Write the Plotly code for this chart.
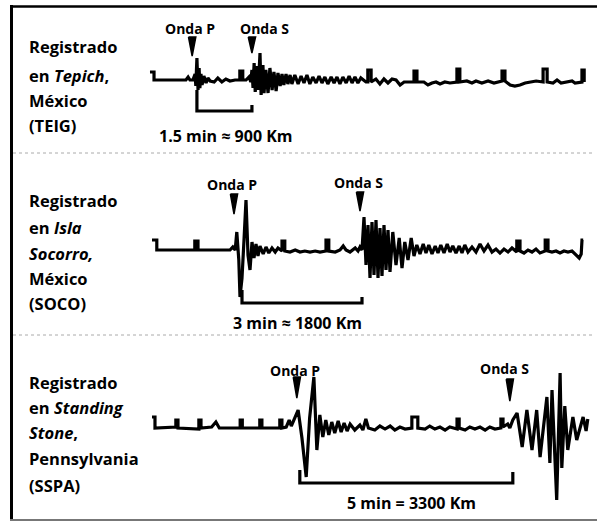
import plotly.graph_objects as go

# ---------------- data ----------------
# seismogram samples: (time in minutes from start of record, amplitude)
teig_trace = [
    (0.00, 8), (0.11, 8), (0.11, 0), (0.98, 0), (1.04, 3), (1.09, 0), (1.17, 0), (1.23, 6), (1.25, -6),
    (1.28, 22), (1.31, -10), (1.34, 12), (1.36, -8), (1.39, 6), (1.42, -5), (1.47, 4), (1.53, -3), (1.58, 2),
    (1.64, -1), (1.75, -2), (1.85, 2), (1.96, -2), (2.07, 1), (2.18, -1), (2.32, 0), (2.45, 0), (2.45, 9),
    (2.53, 9), (2.53, 0), (2.62, 0), (2.70, 3), (2.75, -2), (2.78, 10), (2.81, -8), (2.84, 17), (2.87, -12),
    (2.92, 14), (2.95, -10), (3.00, 27), (3.03, -15), (3.08, 15), (3.11, -13), (3.16, 10), (3.22, -13),
    (3.27, 12), (3.33, -10), (3.38, 8), (3.44, -11), (3.49, 7), (3.55, -6), (3.60, 6), (3.65, -5), (3.71, 6),
    (3.76, -4), (3.82, 5), (3.87, -4), (3.95, 5), (4.04, -4), (4.12, 4), (4.20, -3), (4.28, 5), (4.36, -4),
    (4.44, 3), (4.53, -3), (4.61, 4), (4.69, -3), (4.77, 3), (4.85, -4), (4.94, 3), (5.02, -3), (5.10, 3),
    (5.18, -4), (5.26, 3), (5.35, -3), (5.43, 4), (5.51, -3), (5.59, 3), (5.67, -3), (5.75, 2), (5.89, -2),
    (5.94, -2), (5.94, 10), (6.03, 10), (6.03, -2), (6.16, 1), (6.27, -4), (6.38, 1), (6.49, -3), (6.60, 1),
    (6.71, 0), (6.82, -5), (6.93, -2), (7.20, -2), (7.20, 9), (7.28, 9), (7.28, -2), (7.47, -2), (7.58, -5),
    (7.69, -3), (7.80, -2), (7.91, -4), (8.04, -2), (8.18, -3), (8.37, -2), (8.37, 11), (8.45, 11), (8.45, -2),
    (8.64, -1), (8.78, -3), (8.89, -1), (9.05, -3), (9.22, -1), (9.38, -3), (9.60, -1), (9.60, 9), (9.68, 9),
    (9.68, -1), (9.82, -5), (9.95, -6), (10.09, -5), (10.23, -3), (10.36, -2), (10.53, -1), (10.72, -2),
    (10.72, 11), (10.83, 11), (10.83, -2), (10.99, -3), (11.10, 0), (11.21, -3), (11.37, -2), (11.51, -1),
    (11.59, -3), (11.78, -2), (11.78, 10), (11.84, 10), (11.84, -2),
]

soco_trace = [
    (0.00, 10), (0.12, 10), (0.12, 0), (1.07, 0), (1.07, 9), (1.15, 9), (1.15, 0), (1.95, 0), (2.02, 3),
    (2.08, 0), (2.12, 18), (2.17, -10), (2.20, -47), (2.25, -28), (2.30, 10), (2.35, 50), (2.40, -5),
    (2.45, -20), (2.50, 8), (2.55, -8), (2.60, 6), (2.65, -6), (2.70, 4), (2.78, -4), (2.85, 3), (2.92, -3),
    (3.00, 2), (3.08, -2), (3.15, 2), (3.25, -1), (3.25, 9), (3.32, 9), (3.32, -1), (3.45, -2), (3.58, 0),
    (3.70, -2), (3.82, -1), (3.95, -2), (4.08, -1), (4.20, -2), (4.35, -1), (4.35, 10), (4.42, 10), (4.42, -1),
    (4.58, -2), (4.70, 0), (4.78, 4), (4.85, 0), (4.95, -2), (5.08, 2), (5.15, -1), (5.20, 3), (5.25, 0),
    (5.30, 33), (5.35, -15), (5.40, 25), (5.45, -28), (5.50, 28), (5.55, -25), (5.60, 30), (5.65, -28),
    (5.70, 22), (5.75, -26), (5.80, 25), (5.85, -20), (5.90, 20), (5.95, -22), (6.02, 18), (6.10, -15),
    (6.18, 12), (6.25, -18), (6.32, 8), (6.40, -10), (6.48, 12), (6.55, -6), (6.62, 5), (6.70, -4), (6.78, 6),
    (6.85, -3), (6.92, 5), (7.00, -4), (7.08, 4), (7.15, -3), (7.22, 5), (7.30, -3), (7.38, 6), (7.45, -2),
    (7.52, 4), (7.60, -3), (7.68, 4), (7.75, -3), (7.82, 5), (7.90, -2), (8.00, 3), (8.10, -2), (8.20, 6),
    (8.30, -1), (8.40, 5), (8.50, -2), (8.60, 1), (8.70, -3), (8.80, 1), (8.90, -2), (9.00, 2), (9.12, -2),
    (9.12, 9), (9.20, 9), (9.20, -1), (9.30, -3), (9.40, 0), (9.50, -2), (9.60, 1), (9.70, -3), (9.83, -1),
    (9.83, 10), (9.90, 10), (9.90, -1), (10.00, -2), (10.10, -1), (10.20, -3), (10.30, -1), (10.40, -2),
    (10.50, -1), (10.60, -5), (10.68, -8), (10.73, -4), (10.75, 10), (10.78, 10),
]

sspa_trace = [
    (0.00, 11), (0.07, 11), (0.07, 0), (0.56, 1), (0.56, 8), (0.61, 8), (0.61, 0), (1.10, -1), (1.10, 8),
    (1.15, 8), (1.15, 0), (1.40, 1), (1.50, 6), (1.58, 0), (2.07, 0), (2.07, 8), (2.12, 8), (2.12, 0),
    (2.53, 0), (2.53, 8), (2.58, 8), (2.58, 0), (3.00, 0), (3.00, 8), (3.05, 8), (3.05, 0), (3.15, 1),
    (3.22, 8), (3.27, 2), (3.36, 10), (3.43, 18), (3.52, -10), (3.62, -49), (3.70, 10), (3.80, 51),
    (3.87, -22), (3.94, 13), (4.01, -9), (4.08, 8), (4.15, -7), (4.22, 6), (4.29, -5), (4.37, 7), (4.44, -4),
    (4.51, 5), (4.58, -3), (4.65, 4), (4.76, -2), (4.88, 3), (4.95, -2), (5.02, 9), (5.08, 0), (5.23, -2),
    (5.35, 2), (5.47, -1), (5.59, 2), (5.70, -2), (5.82, 1), (5.94, -1), (6.10, 0), (6.10, 11), (6.24, 11),
    (6.24, 0), (6.41, -1), (6.52, 2), (6.64, -1), (6.76, 1), (6.88, -2), (6.99, 1), (7.16, -1), (7.16, 9),
    (7.21, 9), (7.21, 0), (7.35, -2), (7.46, 1), (7.58, -1), (7.70, 1), (7.82, -2), (7.93, 1), (8.05, -1),
    (8.19, 0), (8.19, 9), (8.24, 9), (8.24, 1), (8.35, 4), (8.40, 0), (8.47, 8), (8.57, 15), (8.69, -19),
    (8.80, 18), (8.92, -22), (9.03, 18), (9.11, -29), (9.27, 31), (9.34, -35), (9.39, 38), (9.50, -72),
    (9.58, 55), (9.62, -40), (9.69, 22), (9.76, -22), (9.88, 11), (9.97, -12), (10.12, 11), (10.19, -3),
    (10.23, 9),
]

p_times = [1.28, 2.25, 3.47]          # P arrival (bracket start), minutes
s_times = [2.78, 5.25, 8.47]          # S arrival (bracket end), minutes
p_arrow_times = [1.15, 2.05, 3.40]    # where the "Onda P" arrow points
s_arrow_times = [2.78, 5.20, 8.40]    # where the "Onda S" arrow points
interval_labels = ["1.5 min ≈ 900 Km", "3 min ≈ 1800 Km", "5 min = 3300 Km"]
station_lines = [
    ["Registrado", "en <i>Tepich</i>,", "México", "(TEIG)"],
    ["Registrado", "en <i>Isla</i>", "<i>Socorro,</i>", "México", "(SOCO)"],
    ["Registrado", "en <i>Standing</i>", "<i>Stone</i>,", "Pennsylvania", "(SSPA)"],
]
traces = [teig_trace, soco_trace, sspa_trace]

# ---------------- layout / style configuration ----------------
W, H = 597, 522
FONT = "Open Sans"
panels = [
    dict(xrange=[-4.09, 12.19], ydom=[0.7069, 1.0], yrange=[-73, 80],
         br=(-10, -31, -25), pa=(43, 24), sa=(43, 27), hw=0.1,
         plab=52, slab=52, pshift=-2, sshift=13, ilab=-56, ishift=2,
         lines_px=[47, 75, 100, 125]),
    dict(xrange=[-3.8, 11.125], ydom=[0.3582, 0.7069], yrange=[-85, 97],
         br=(-40, -53, -47), pa=(56, 36), sa=(58, 39), hw=0.09,
         plab=65, slab=67, pshift=-2, sshift=-2, ilab=-73, ishift=-5,
         lines_px=[201, 227, 253, 278, 303]),
    dict(xrange=[-3.568, 10.446], ydom=[0.0, 0.3582], yrange=[-94, 93],
         br=(-42, -55, -44), pa=(51, 30), sa=(49, 27), hw=0.085,
         plab=58, slab=60, pshift=-2, sshift=-5, ilab=-75, ishift=5,
         lines_px=[382, 407, 432, 458, 485]),
]

fig = go.Figure()
annotations = []
layout_axes = {}

for i, (cfg, tr) in enumerate(zip(panels, traces)):
    n = "" if i == 0 else str(i + 1)
    xa, ya = "x" + n, "y" + n
    t = [p[0] for p in tr]
    a = [p[1] for p in tr]
    # seismogram
    fig.add_trace(go.Scatter(x=t, y=a, mode="lines", xaxis=xa, yaxis=ya,
                             line=dict(color="black", width=3.2, shape="linear"), hoverinfo="skip"))
    # bracket P -> S
    top_l, depth, top_r = cfg["br"]
    fig.add_trace(go.Scatter(x=[p_times[i], p_times[i], s_times[i], s_times[i]],
                             y=[top_l, depth, depth, top_r], mode="lines", xaxis=xa, yaxis=ya,
                             line=dict(color="black", width=3.2), hoverinfo="skip"))
    # arrows
    for at, (top, tip) in ((p_arrow_times[i], cfg["pa"]), (s_arrow_times[i], cfg["sa"])):
        hw = cfg["hw"]
        fig.add_trace(go.Scatter(x=[at - hw, at + hw, at, at - hw], y=[top, top, tip, top],
                                 mode="lines", fill="toself", fillcolor="black", xaxis=xa, yaxis=ya,
                                 line=dict(color="black", width=1.5), hoverinfo="skip"))
    # labels
    annotations.append(dict(x=p_arrow_times[i], y=cfg["plab"], xref=xa, yref=ya, text="<b>Onda P</b>",
                            showarrow=False, xshift=cfg["pshift"], font=dict(family=FONT, size=14, color="black")))
    annotations.append(dict(x=s_arrow_times[i], y=cfg["slab"], xref=xa, yref=ya, text="<b>Onda S</b>",
                            showarrow=False, xshift=cfg["sshift"], font=dict(family=FONT, size=14, color="black")))
    annotations.append(dict(x=(p_times[i] + s_times[i]) / 2, y=cfg["ilab"], xref=xa, yref=ya,
                            text="<b>" + interval_labels[i] + "</b>", showarrow=False, xshift=cfg["ishift"],
                            font=dict(family=FONT, size=16, color="black")))
    for txt, ypx in zip(station_lines[i], cfg["lines_px"]):
        annotations.append(dict(x=27 / W, y=1 - ypx / H, xref="paper", yref="paper", xanchor="left",
                                yanchor="middle", text="<b>" + txt + "</b>", showarrow=False,
                                font=dict(family=FONT, size=16.5, color="black")))
    layout_axes["xaxis" + n] = dict(domain=[0, 1], range=cfg["xrange"], visible=False, anchor=ya, fixedrange=True)
    layout_axes["yaxis" + n] = dict(domain=cfg["ydom"], range=cfg["yrange"], visible=False, anchor=xa, fixedrange=True)

shapes = [
    # frame
    dict(type="line", xref="paper", yref="paper", x0=11.5 / W, x1=11.5 / W, y0=1 - 5 / H, y1=1 - 521 / H,
         line=dict(color="black", width=3)),
    dict(type="line", xref="paper", yref="paper", x0=10 / W, x1=1, y0=1 - 6.5 / H, y1=1 - 6.5 / H,
         line=dict(color="black", width=2.5)),
    dict(type="line", xref="paper", yref="paper", x0=10 / W, x1=1, y0=1 - 520 / H, y1=1 - 520 / H,
         line=dict(color="#777777", width=2)),
    # separators
    dict(type="line", xref="paper", yref="paper", x0=13 / W, x1=592 / W, y0=1 - 153 / H, y1=1 - 153 / H,
         line=dict(color="#aaaaaa", width=1, dash="dot")),
    dict(type="line", xref="paper", yref="paper", x0=13 / W, x1=592 / W, y0=1 - 335 / H, y1=1 - 335 / H,
         line=dict(color="#aaaaaa", width=1, dash="dot")),
]

fig.update_layout(width=W, height=H, margin=dict(l=0, r=0, t=0, b=0), showlegend=False,
                  paper_bgcolor="white", plot_bgcolor="white", annotations=annotations, shapes=shapes,
                  **layout_axes)
fig.write_html("out.html", config={"displayModeBar": False})
